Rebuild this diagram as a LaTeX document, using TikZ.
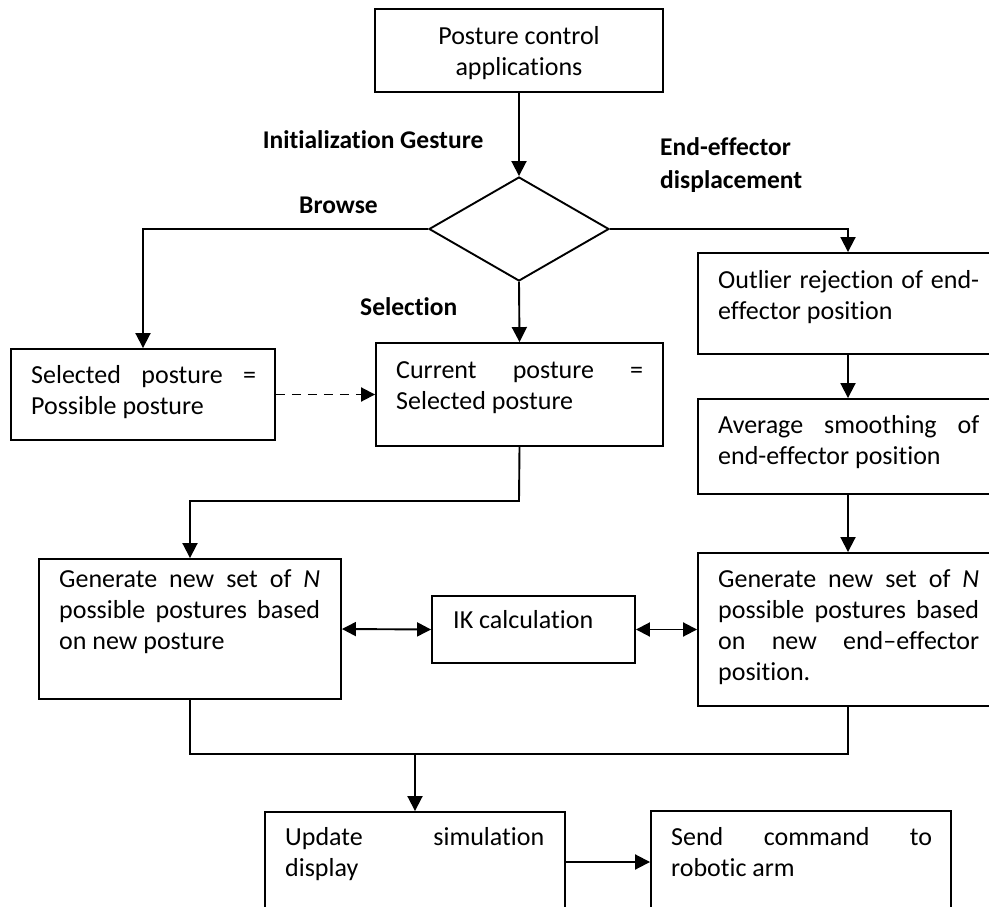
\documentclass[tikz,border=0pt]{standalone}
\usepackage{fontspec}
\setmainfont{Carlito}[Ligatures=NoCommon]
\usetikzlibrary{arrows.meta,shapes.geometric}
% one line stretched to the full text width (justified line)
\newcommand\fullline[1]{{\spaceskip=0.226em plus 1fil\relax\makebox[\linewidth][s]{#1}}}
\begin{document}
\begin{tikzpicture}[x=1pt,y=-1pt,
  every node/.style={font=\fontsize{26}{31}\selectfont},
  box/.style={draw, line width=1.9pt, inner sep=0pt},
  txt/.style={inner sep=0pt, anchor=base west, text width=#1, align=justify},
  lbl/.style={inner sep=0pt, font=\fontsize{25.5}{31}\selectfont\bfseries},
  conn/.style={line width=1.9pt},
  arr/.style={line width=1.9pt, -{Triangle[length=15pt,width=15pt]}},
  dasharr/.style={line width=1.9pt, dash pattern=on 9pt off 7pt, -{Triangle[length=14pt,width=14pt]}},
  biarr/.style={line width=1.9pt, {Triangle[length=14pt,width=14pt]}-{Triangle[length=14pt,width=14pt]}}
]
\useasboundingbox (0,0) rectangle (989,907);
\clip (0,0) rectangle (989,907);
\fill[white] (0,0) rectangle (989,907);

% boxes
\node[box, minimum width=288pt, minimum height=83pt] (top) at (519,50.5) {};
\node[diamond, draw, line width=1.9pt, inner sep=0pt, minimum width=180pt, minimum height=104pt] (dec) at (519,229) {};
\node[box, minimum width=264pt, minimum height=91pt] (sel) at (143,394.5) {};
\node[box, minimum width=287pt, minimum height=103pt] (cur) at (519.5,394.5) {};
\node[box, minimum width=300pt, minimum height=101pt] (out) at (848,303.5) {};
\node[box, minimum width=300pt, minimum height=95pt] (avg) at (848,446.5) {};
\node[box, minimum width=300pt, minimum height=153pt] (genr) at (848,629.5) {};
\node[box, minimum width=302pt, minimum height=140pt] (genl) at (190,629) {};
\node[box, minimum width=203pt, minimum height=67pt] (ik) at (533.5,629.5) {};
\node[box, minimum width=300pt, minimum height=100pt] (upd) at (415,862) {};
\node[box, minimum width=300pt, minimum height=102pt] (send) at (801,862) {};

% box texts
\node[txt=288pt, anchor=base] at (519,45) {\centering Posture control\\applications\par};
\node[txt=225pt] at (31,383) {\fullline{Selected posture =}\\Possible posture};
\node[txt=247pt] at (396,378) {\fullline{Current posture =}\\Selected posture};
\node[txt=261pt] at (718,288) {\fullline{Outlier rejection of end-}\\effector position};
\node[txt=261pt] at (718,433) {\fullline{Average smoothing of}\\end-effector position};
\node[txt=261pt] at (718,587) {\fullline{Generate new set of \textit{N}}\\\fullline{possible postures based}\\\fullline{on new end–effector}\\position.};
\node[txt=261pt] at (59,587) {\fullline{Generate new set of \textit{N}}\\\fullline{possible postures based}\\on new posture};
\node[inner sep=0pt, anchor=base west] at (453,628) {IK calculation};
\node[txt=259pt] at (285,845) {\fullline{Update simulation}\\display};
\node[txt=261pt] at (671,845) {\fullline{Send command to}\\robotic arm};

% branch labels
\node[lbl, anchor=base] at (373,148) {Initialization Gesture};
\node[lbl, anchor=base west, text width=170pt, align=left] at (660,155) {End-effector\\[2pt]displacement};
\node[lbl, anchor=base west] at (299,213) {Browse};
\node[lbl, anchor=base west] at (360,315) {Selection};

% connectors
\coordinate (bend) at (519,501);
\coordinate (join) at (415,754);
\draw[arr] (top) -- (dec.north);
\draw[arr] (dec.west) -| (sel.north);
\draw[arr] (dec.south) -- (cur.north);
\draw[arr] (dec.east) -| (out.north);
\draw[dasharr] (sel.east) -- (cur.west);
\draw[arr] (out) -- (avg);
\draw[arr] (avg) -- (genr);
\draw[arr] (cur.south) -- (bend) -| (genl.north);
\draw[biarr] (genl.east) -- (ik.west);
\draw[biarr] (ik.east) -- (genr.west);
\draw[conn] (genl.south) |- (join) -| (genr.south);
\draw[arr] (join) -- (upd.north);
\draw[arr] (upd.east) -- (send.west);
\end{tikzpicture}
\end{document}
